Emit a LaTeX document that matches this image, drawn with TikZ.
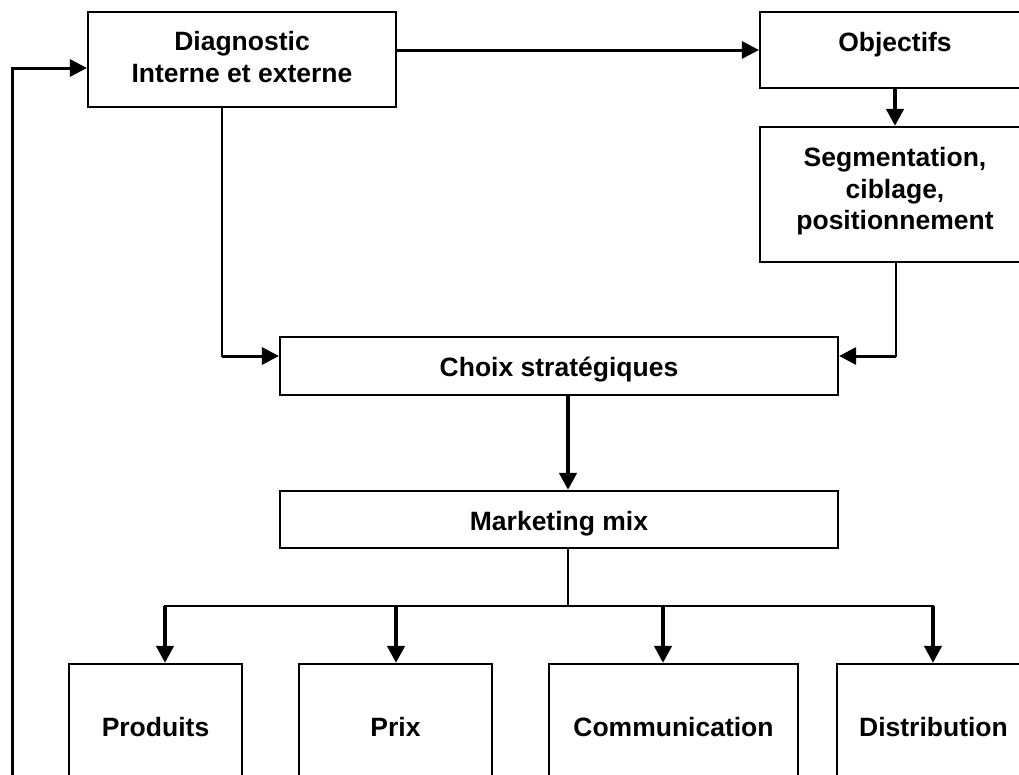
\documentclass[tikz,border=0pt]{standalone}
\usepackage{fontspec}
\setmainfont{Liberation Sans}
\usetikzlibrary{arrows.meta}
\begin{document}
\begin{tikzpicture}[x=1pt,y=-1pt,
  box/.style={draw, line width=2.2pt, inner sep=0pt, align=center, font=\bfseries\fontsize{26.5}{31.8}\selectfont},
  wire/.style={line width=2pt, line cap=rect},
  med/.style={line width=3pt, -{Triangle[length=17pt,width=17pt]}},
  heavy/.style={line width=4.5pt, -{Triangle[length=17pt,width=17pt]}}]
\useasboundingbox (0,0) rectangle (1019,774);
\clip (0,0) rectangle (1019,774);
% boxes
\node[box, minimum width=308pt, minimum height=95pt, text depth=6pt] (diag) at (242,59.5) {Diagnostic\\Interne et externe};
\node[box, minimum width=270pt, minimum height=76pt, text depth=16pt] (obj) at (895,50) {Objectifs};
\node[box, minimum width=270pt, minimum height=135pt, text depth=12pt] (seg) at (895,194.5) {Segmentation,\\ciblage,\\positionnement};
\node[box, minimum width=558pt, minimum height=58pt, text height=26pt, text depth=5.6pt] (choix) at (559,366) {Choix stratégiques};
\node[box, minimum width=558pt, minimum height=57pt, text height=27.5pt, text depth=5.6pt] (mk) at (559,519.5) {Marketing mix};
\node[box, minimum width=173pt, minimum height=126pt] (prod) at (155.5,727) {Produits};
\node[box, minimum width=193pt, minimum height=126pt] (prix) at (395.5,727) {Prix};
\node[box, minimum width=249pt, minimum height=126pt] (comm) at (673.5,727) {Communication};
\node[box, minimum width=193pt, minimum height=126pt] (dist) at (933.5,727) {Distribution};
% helper coordinates
\coordinate (fb) at (12,790);
\coordinate (fbin) at (0,68);
\coordinate (dx) at (222,0);
\coordinate (sx) at (896,0);
\coordinate (ay) at (0,356);
\coordinate (mx) at (568,606);
\coordinate (b1) at (165,606);
\coordinate (b2) at (396,606);
\coordinate (b3) at (663,606);
\coordinate (b4) at (933,606);
% connectors
\draw[med] (fb) |- (diag.west |- fbin);
\draw[med] (diag.east |- obj.west) -- (obj.west);
\draw[heavy] (obj.south) -- (seg.north);
\draw[wire] (diag.south -| dx) -- (dx |- ay);
\draw[med] (dx |- ay) -- (choix.west |- ay);
\draw[wire] (seg.south -| sx) -- (sx |- ay);
\draw[med] (sx |- ay) -- (choix.east |- ay);
\draw[heavy] (choix.south -| mx) -- (mk.north -| mx);
\draw[wire] (mk.south -| mx) -- (mx);
\draw[wire] (b1) -- (b4);
\draw[heavy] (b1) -- (b1 |- prod.north);
\draw[heavy] (b2) -- (b2 |- prix.north);
\draw[heavy] (b3) -- (b3 |- comm.north);
\draw[heavy] (b4) -- (b4 |- dist.north);
\end{tikzpicture}
\end{document}
